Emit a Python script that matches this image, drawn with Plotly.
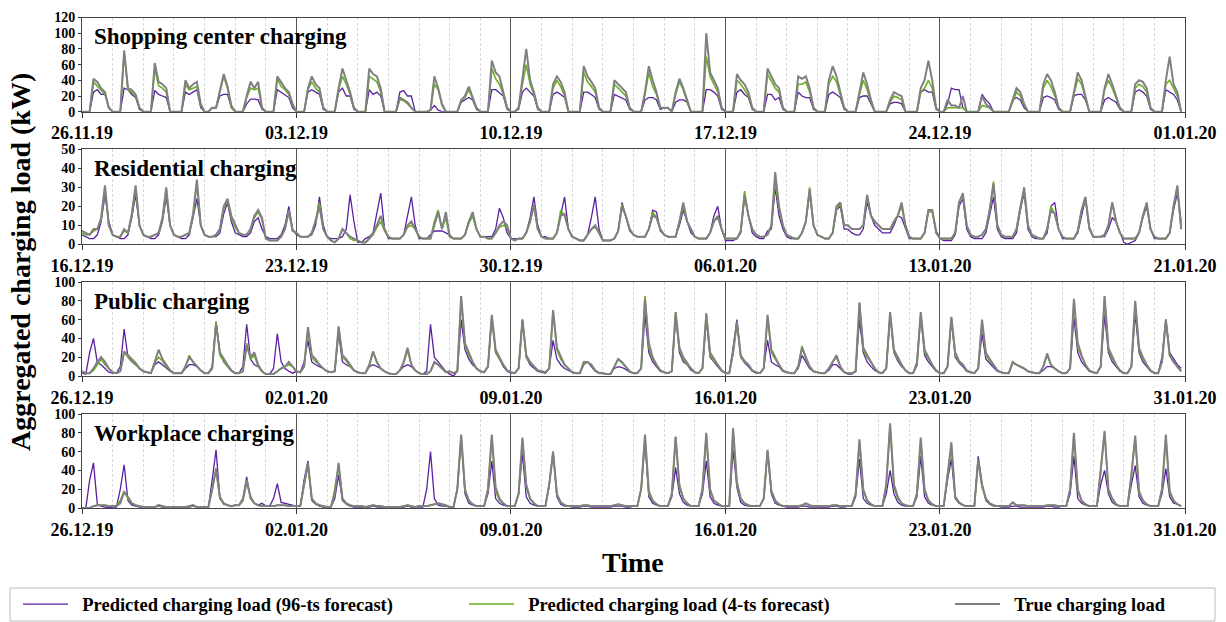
import plotly.graph_objects as go
import pandas as pd

# ---------------- data (3-hour resolution, 8 values per day, 36 days) ----------------
series_names = ["Predicted charging load (96-ts forecast)",
                "Predicted charging load (4-ts forecast)",
                "True charging load"]
panel_titles = ["Shopping center charging", "Residential charging",
                "Public charging", "Workplace charging"]
panel_starts = ["2019-11-26", "2019-12-16", "2019-12-26", "2019-12-26"]
tick_dates = [
    ["2019-11-26", "2019-12-03", "2019-12-10", "2019-12-17", "2019-12-24", "2020-01-01"],
    ["2019-12-16", "2019-12-23", "2019-12-30", "2020-01-06", "2020-01-13", "2020-01-21"],
    ["2019-12-26", "2020-01-02", "2020-01-09", "2020-01-16", "2020-01-23", "2020-01-31"],
    ["2019-12-26", "2020-01-02", "2020-01-09", "2020-01-16", "2020-01-23", "2020-01-31"],
]
tick_labels = [
    ["26.11.19", "03.12.19", "10.12.19", "17.12.19", "24.12.19", "01.01.20"],
    ["16.12.19", "23.12.19", "30.12.19", "06.01.20", "13.01.20", "21.01.20"],
    ["26.12.19", "02.01.20", "09.01.20", "16.01.20", "23.01.20", "31.01.20"],
    ["26.12.19", "02.01.20", "09.01.20", "16.01.20", "23.01.20", "31.01.20"],
]
y_max = [120, 50, 100, 100]
y_step = [20, 10, 20, 20]

# Shopping center
shop_96 = [
    0,0,0,25,28,22,22,5, 0,0,0,30,28,22,18,3, 0,0,0,27,22,20,18,0, 0,0,0,25,22,25,28,5,
    0,0,5,5,20,22,22,5, 0,0,0,10,16,16,15,3, 0,0,0,28,25,22,18,5, 0,0,0,25,28,25,22,3,
    0,0,0,25,30,20,20,3, 0,0,0,28,22,25,20,0, 0,0,0,25,27,20,20,0, 0,0,0,2,8,2,0,0,
    0,0,0,12,15,18,15,3, 0,0,0,28,28,24,20,3, 0,0,3,25,30,25,20,3, 0,0,0,22,25,22,18,0,
    0,0,0,25,25,22,18,3, 0,0,0,22,20,18,15,3, 0,0,0,15,18,18,15,3, 5,5,0,12,15,15,12,0,
    0,0,0,28,28,25,20,3, 0,0,0,25,28,22,18,3, 0,0,0,22,22,15,18,3, 0,0,0,25,20,18,18,3,
    0,0,0,22,25,22,18,3, 0,0,0,18,20,20,10,0, 0,0,0,10,12,12,10,0, 0,0,0,25,28,25,25,3,
    0,0,10,30,28,28,5,0, 0,0,0,22,15,10,0,0, 0,0,0,15,18,15,5,0, 0,0,0,18,20,18,15,3,
    0,0,0,20,22,22,15,0, 0,0,0,15,18,15,12,3, 0,0,0,25,28,25,20,3, 0,0,0,28,25,22,15,0,
]
shop_4 = [
    0,0,0,38,33,28,22,5, 0,0,0,75,28,25,20,5, 0,0,0,55,33,30,25,0, 0,0,0,35,28,30,32,8,
    0,0,5,5,25,45,30,5, 0,0,0,18,30,28,30,5, 0,0,0,42,32,28,22,8, 0,0,0,28,38,30,25,5,
    0,0,0,28,45,35,22,5, 0,0,0,45,42,38,25,0, 0,0,0,16,14,10,5,0, 0,0,0,2,35,28,8,0,
    0,0,0,14,18,28,16,5, 0,0,0,55,42,35,22,5, 0,0,5,35,60,35,22,5, 0,0,0,30,40,32,20,0,
    0,0,0,50,38,32,25,5, 0,0,0,35,30,25,20,5, 0,0,0,22,50,32,22,5, 5,5,0,22,38,28,12,0,
    0,0,0,70,45,35,25,5, 0,0,0,40,35,28,20,5, 0,0,0,48,38,30,25,5, 0,0,0,35,35,38,25,5,
    0,0,0,35,45,38,20,5, 0,0,0,22,40,28,12,0, 0,0,0,12,20,18,15,0, 0,0,0,25,30,40,30,5,
    0,0,5,5,5,5,5,0, 0,0,0,8,6,5,0,0, 0,0,0,12,25,20,8,0, 0,0,0,30,40,32,20,5,
    0,0,0,22,42,35,18,0, 0,0,0,28,40,30,18,5, 0,0,0,30,35,32,25,5, 0,0,0,35,40,30,20,0,
]
shop_true = [
    0,0,0,42,38,30,25,5, 0,0,0,78,30,28,22,5, 0,0,0,62,38,35,30,0, 0,0,0,40,30,35,38,10,
    0,0,5,5,28,48,32,8, 0,0,0,20,38,30,38,5, 0,0,0,45,38,30,25,10, 0,0,0,30,45,35,30,5,
    0,0,0,30,55,40,25,5, 0,0,0,55,48,45,30,0, 0,0,0,18,15,12,5,0, 0,0,0,2,45,30,10,0,
    0,0,0,15,20,32,18,5, 0,0,0,65,50,45,25,5, 0,0,5,40,80,40,25,5, 0,0,0,35,45,38,25,0,
    0,0,0,58,45,38,30,5, 0,0,0,40,35,30,25,5, 0,0,0,25,58,40,25,5, 5,5,0,25,42,30,15,0,
    0,0,0,100,50,40,30,5, 0,0,0,48,40,35,25,5, 0,0,0,55,45,35,30,5, 0,0,0,45,42,45,30,5,
    0,0,0,40,58,45,25,5, 0,0,0,25,50,35,15,0, 0,0,0,15,25,22,20,0, 0,0,0,30,40,65,40,5,
    0,0,15,8,8,5,20,0, 0,0,0,20,10,5,0,0, 0,0,0,15,30,25,10,0, 0,0,0,35,48,40,25,5,
    0,0,0,25,50,40,20,0, 0,0,0,30,48,35,20,5, 0,0,0,35,40,38,30,5, 0,0,0,40,70,35,25,0,
]

# Residential
res_96 = [
    5,4,3,3,5,12,26,12, 5,4,3,3,5,14,26,10, 5,4,3,3,5,12,25,10, 5,4,3,3,5,14,24,10,
    5,4,4,4,6,16,22,12, 6,5,4,4,6,12,14,8, 4,3,3,3,5,10,20,8, 5,4,4,4,5,10,25,10,
    4,3,3,3,4,8,26,12, 1,1,3,4,6,16,27,8, 3,3,3,3,5,16,25,10, 3,3,3,5,7,7,7,6,
    5,3,3,3,5,12,15,8, 4,4,4,4,8,19,14,6, 3,3,3,3,6,14,25,10, 4,4,3,3,6,15,25,8,
    4,3,2,2,5,14,25,8, 2,2,2,3,7,22,15,7, 5,4,4,4,8,18,17,7, 5,4,4,4,10,18,12,6,
    4,3,3,3,6,15,20,8, 2,2,2,3,6,25,15,6, 4,3,3,7,8,30,15,8, 4,3,3,3,6,12,27,10,
    5,4,3,3,6,18,20,8, 8,6,5,5,8,22,15,10, 8,6,6,6,10,15,14,8, 3,3,3,3,6,18,18,6,
    3,2,2,2,5,20,24,8, 4,3,3,3,6,15,25,8, 4,3,3,3,6,18,27,8, 4,3,3,3,6,20,22,8,
    3,3,3,3,6,15,24,8, 4,4,4,4,8,14,12,6, 1,0,1,2,6,14,20,8, 3,3,3,3,6,18,27,12,
]
res_4 = [
    6,5,5,7,8,13,30,10, 5,4,4,7,6,15,30,10, 5,4,4,5,6,13,28,10, 5,4,4,5,6,15,32,10,
    5,4,4,5,8,19,23,14, 9,6,5,5,8,14,17,13, 3,2,2,2,4,8,17,7, 6,4,4,4,6,13,22,8,
    4,2,1,3,8,6,3,2, 2,1,1,3,5,9,12,7, 4,3,3,3,5,9,10,8, 4,3,3,3,12,18,8,14,
    4,3,3,3,5,11,15,8, 4,4,3,3,6,9,10,9, 3,2,3,3,6,12,20,8, 4,3,3,3,6,18,15,8,
    4,3,2,2,5,8,9,6, 2,2,2,3,7,21,14,8, 5,4,4,4,8,17,14,8, 5,4,4,4,12,20,12,8,
    4,3,3,3,6,12,14,8, 3,3,3,3,7,28,15,8, 5,4,4,5,10,33,19,10, 5,4,3,3,6,12,30,10,
    5,4,3,3,6,18,22,10, 10,8,8,8,10,26,15,12, 10,8,8,8,12,15,20,10, 4,3,3,3,6,17,17,7,
    3,3,3,3,6,22,26,10, 5,4,4,5,8,18,33,10, 5,4,4,4,8,20,28,10, 5,4,3,3,8,20,16,8,
    4,3,3,3,7,18,24,9, 4,4,4,5,10,22,12,6, 3,3,3,3,6,15,21,8, 4,3,3,3,6,20,30,8,
]
res_true = [
    7,6,5,8,8,14,31,10, 5,4,4,8,6,16,31,10, 5,4,4,5,6,14,30,10, 5,4,4,5,6,16,34,10,
    5,4,4,5,8,20,24,15, 10,6,5,5,8,15,18,14, 3,2,2,2,4,8,18,7, 6,4,4,4,6,12,20,8,
    4,2,1,3,8,6,4,3, 2,1,1,3,6,10,15,8, 4,3,3,3,5,10,12,8, 4,3,3,3,10,17,8,17,
    4,3,3,3,5,12,17,8, 4,4,3,3,6,10,12,10, 3,2,3,3,6,12,21,8, 4,3,3,3,6,15,16,8,
    4,3,2,2,5,8,10,6, 2,2,2,3,7,20,15,8, 5,4,4,4,8,15,14,8, 5,4,4,4,12,22,12,8,
    4,3,3,3,6,12,15,8, 3,3,3,3,7,26,15,8, 5,4,4,5,10,38,20,10, 5,4,3,3,6,12,29,10,
    5,4,3,3,6,20,22,10, 10,8,8,8,10,26,15,12, 10,8,8,8,12,15,22,10, 4,3,3,3,6,18,18,7,
    3,3,3,3,6,22,27,10, 5,4,4,5,8,18,32,10, 5,4,4,4,8,20,30,10, 5,4,3,3,8,18,16,8,
    4,3,3,3,7,18,25,9, 4,4,4,5,10,22,12,6, 3,3,3,3,6,15,22,8, 4,3,3,3,6,20,31,8,
]

# Public
pub_96 = [
    3,2,25,40,14,12,8,4, 3,3,10,50,20,15,12,8, 5,4,3,12,15,12,8,5, 3,3,3,8,12,12,10,6,
    3,3,10,58,25,15,10,5, 3,3,10,55,18,12,10,5, 2,2,8,45,15,8,5,3, 5,4,15,38,15,12,10,8,
    5,4,5,45,15,12,10,6, 4,3,3,10,12,10,8,5, 3,2,2,6,10,12,10,6, 3,2,5,55,20,15,10,5,
    2,0,5,60,28,18,12,8, 5,4,10,62,25,18,10,5, 3,3,8,60,20,12,8,5, 4,3,8,38,18,12,8,6,
    4,3,3,12,15,10,5,3, 3,2,2,8,10,9,7,4, 3,3,8,65,25,15,10,5, 4,3,5,63,25,15,12,6,
    4,3,8,60,20,15,10,5, 3,3,30,60,20,14,10,5, 3,3,8,38,15,12,10,5, 4,3,3,8,22,15,8,5,
    4,3,3,6,12,12,8,4, 2,2,5,60,25,15,10,6, 4,3,8,66,25,16,10,6, 3,3,15,65,22,15,10,5,
    3,3,10,60,20,14,10,5, 4,3,8,45,18,14,10,5, 4,3,3,14,12,10,8,5, 4,3,3,6,10,10,8,5,
    3,3,8,62,25,15,10,5, 4,3,10,65,25,15,10,5, 3,3,10,66,25,15,10,5, 3,3,20,60,25,18,12,8,
]
pub_4 = [
    5,3,3,6,12,18,12,8, 4,3,5,25,20,16,12,8, 5,4,3,14,20,16,10,6, 3,3,3,10,22,15,10,6,
    3,3,8,58,22,16,10,6, 3,3,5,35,18,22,10,5, 2,2,2,5,8,10,12,10, 5,4,10,50,20,15,12,8,
    5,4,5,53,20,16,10,6, 4,3,3,10,26,14,8,5, 3,2,2,6,14,27,12,6, 3,2,2,5,14,12,8,4,
    5,3,5,82,32,22,15,8, 5,4,10,63,25,18,12,6, 4,3,8,60,20,14,10,6, 5,4,8,70,28,18,12,8,
    4,3,3,12,15,12,6,3, 3,2,2,10,18,14,10,5, 3,3,8,85,30,18,12,6, 4,3,5,68,28,18,12,8,
    4,3,8,67,22,16,12,6, 3,3,25,56,20,15,12,6, 4,3,8,63,25,18,12,6, 4,3,3,10,32,18,10,5,
    4,3,3,8,15,20,10,4, 3,3,5,78,28,20,15,8, 4,3,8,65,26,18,12,6, 3,3,12,66,25,18,12,6,
    3,3,10,62,22,15,12,6, 4,3,8,58,22,16,12,6, 4,3,3,14,12,10,8,5, 4,3,3,10,22,12,8,5,
    3,3,8,80,30,20,12,6, 4,3,10,84,28,18,12,6, 3,3,10,78,28,18,12,6, 3,3,15,60,22,15,10,5,
]
pub_true = [
    5,3,3,8,15,20,15,8, 4,3,5,26,22,18,14,8, 5,4,3,15,28,18,12,6, 3,3,3,10,20,15,10,6,
    3,3,8,55,25,18,12,6, 3,3,5,32,20,25,12,5, 2,2,2,5,8,10,15,10, 5,4,10,52,22,18,12,8,
    5,4,5,52,22,18,12,6, 4,3,3,12,26,15,8,5, 3,2,2,6,15,30,12,6, 3,2,2,5,15,12,8,4,
    5,3,5,85,35,25,15,8, 5,4,10,65,28,20,12,6, 4,3,8,60,22,15,10,6, 5,4,8,70,30,20,12,8,
    4,3,3,15,15,12,6,3, 3,2,2,10,18,15,10,5, 3,3,8,82,35,20,12,6, 4,3,5,68,30,20,14,8,
    4,3,8,66,25,18,12,6, 3,3,25,58,22,16,12,6, 4,3,8,65,28,20,12,6, 4,3,3,10,30,20,10,5,
    4,3,3,8,15,22,10,4, 3,3,5,78,30,22,15,8, 4,3,8,68,28,20,12,6, 3,3,12,68,28,20,12,6,
    3,3,10,63,25,16,12,6, 4,3,8,60,25,18,12,6, 4,3,3,15,12,10,8,5, 4,3,3,10,24,12,8,5,
    3,3,8,82,35,22,12,6, 4,3,10,85,30,20,12,6, 3,3,10,80,30,20,12,6, 3,3,15,60,22,15,10,5,
]

# Workplace
work_96 = [
    0,0,30,48,4,2,1,0, 1,1,20,46,8,3,2,1, 1,1,1,1,2,1,1,1, 1,1,1,1,1,2,1,1,
    1,1,30,62,10,4,3,2, 3,3,10,33,10,5,3,5, 2,2,10,26,6,5,4,3, 2,2,30,50,8,4,2,1,
    1,1,10,35,8,4,2,1, 1,1,1,1,2,1,1,1, 1,1,1,1,1,2,1,1, 1,1,20,60,10,3,2,2,
    1,1,20,75,15,5,3,2, 2,2,15,50,10,5,3,2, 2,2,15,58,12,5,3,2, 2,2,25,60,12,4,2,2,
    1,1,1,2,2,1,1,1, 1,1,1,2,2,2,1,1, 2,2,20,70,12,5,3,2, 2,2,12,43,15,6,3,2,
    2,2,15,50,12,5,3,2, 2,2,62,22,6,3,2,2, 2,2,10,60,15,5,3,2, 1,1,1,1,2,2,1,1,
    1,1,1,1,2,2,1,1, 2,2,12,52,10,5,3,2, 2,2,15,40,15,6,3,2, 2,2,12,55,12,5,3,2,
    2,2,30,52,10,5,3,2, 2,2,55,25,8,4,2,2, 1,1,1,2,2,1,1,1, 1,1,1,1,2,2,1,1,
    2,2,15,55,10,5,3,2, 2,2,25,40,15,6,3,2, 2,2,25,45,12,5,3,2, 2,2,15,42,12,5,4,2,
]
work_4 = [
    0,0,0,2,3,3,3,2, 2,2,8,18,10,5,3,2, 1,1,1,1,3,2,1,1, 1,1,1,1,2,3,1,1,
    1,1,20,40,10,5,3,2, 3,3,10,30,10,5,3,2, 2,2,2,3,3,3,2,2, 2,2,25,45,10,5,3,2,
    1,1,20,45,10,5,3,2, 2,2,1,2,3,2,2,1, 1,1,1,1,2,3,2,1, 2,2,2,3,4,5,4,3,
    1,1,20,76,18,8,4,2, 2,2,20,75,18,8,5,2, 2,2,15,73,22,10,5,2, 2,2,25,58,14,6,3,2,
    2,2,2,3,3,2,2,2, 2,2,2,3,4,3,2,2, 2,2,20,75,15,8,4,2, 2,2,15,75,25,10,5,2,
    2,2,20,78,18,8,5,2, 2,2,80,25,10,5,3,2, 2,2,10,60,18,8,4,2, 2,2,2,2,3,5,3,2,
    2,2,2,2,3,3,2,2, 2,2,15,70,18,8,4,2, 2,2,25,88,22,10,5,3, 2,2,15,72,18,8,4,2,
    2,2,35,65,12,6,3,2, 2,2,50,22,10,5,3,2, 2,2,2,6,3,3,3,2, 2,2,2,2,3,3,3,2,
    2,2,20,78,18,8,4,2, 2,2,40,80,18,10,4,2, 2,2,35,75,16,8,4,2, 2,2,20,75,16,8,4,2,
]
work_true = [
    0,0,0,2,3,3,3,2, 2,2,5,17,12,5,3,2, 1,1,1,1,3,2,1,1, 1,1,1,1,2,3,1,1,
    1,1,20,42,12,5,3,2, 3,3,8,28,12,5,3,2, 2,2,2,3,3,3,2,2, 2,2,25,48,10,5,3,2,
    1,1,15,48,10,5,3,2, 2,2,1,2,3,2,2,1, 1,1,1,1,2,3,2,1, 2,2,2,3,4,5,4,3,
    1,1,20,78,20,8,4,2, 2,2,20,78,22,10,5,2, 2,2,15,75,25,10,5,2, 2,2,25,60,15,6,3,2,
    2,2,2,3,3,2,2,2, 2,2,2,3,4,3,2,2, 2,2,20,78,18,8,4,2, 2,2,15,76,22,10,5,2,
    2,2,20,80,20,8,5,2, 2,2,85,28,10,5,3,2, 2,2,10,62,18,8,4,2, 2,2,2,2,3,5,3,2,
    2,2,2,2,3,3,2,2, 2,2,15,73,20,8,4,2, 2,2,25,90,25,12,5,3, 2,2,15,75,20,8,4,2,
    2,2,35,70,12,6,3,2, 2,2,52,25,10,5,3,2, 2,2,2,6,3,3,3,2, 2,2,2,2,3,3,3,2,
    2,2,20,80,20,8,4,2, 2,2,40,82,20,10,4,2, 2,2,35,77,18,8,4,2, 2,2,20,78,18,8,4,2,
]

panel_data = [
    (shop_96, shop_4, shop_true),
    (res_96, res_4, res_true),
    (pub_96, pub_4, pub_true),
    (work_96, work_4, work_true),
]

# ---------------- styling ----------------
W, H = 1226, 622
FONT = "Liberation Serif"
colors = ["#5b1fa3", "#6ab023", "#808080"]
widths = [1.3, 1.6, 2.0]
legend_ids = ["legend", "legend2", "legend3"]

X0, X1 = 82 / W, 1185 / W
panel_px = [(17.5, 111.7), (149.3, 244.3), (282.0, 376.0), (414.0, 508.0)]

fig = go.Figure()

for i in range(4):
    n = "" if i == 0 else str(i + 1)
    xa, ya = "x" + n, "y" + n
    start = pd.Timestamp(panel_starts[i])
    values = panel_data[i]
    times = pd.date_range(start, periods=len(values[0]), freq="3h")
    for k in range(3):
        fig.add_trace(go.Scatter(
            x=times, y=values[k], mode="lines",
            name="\u00a0\u00a0" + series_names[k],
            line=dict(color=colors[k], width=widths[k]),
            xaxis=xa, yaxis=ya, showlegend=(i == 0), legend=legend_ids[k],
        ))
    top, bot = panel_px[i]
    end = start + pd.Timedelta(days=36)
    fig.layout["xaxis" + n] = dict(
        domain=[X0, X1], anchor=ya, type="date",
        range=[start, end],
        tickmode="array", tickvals=tick_dates[i], ticktext=tick_labels[i],
        tickangle=0,
        ticks="outside", ticklen=5, tickcolor="#333", tickwidth=1,
        tickfont=dict(family=FONT, size=18, color="black", weight="bold"),
        ticklabelstandoff=0,
        showline=True, mirror=True, linecolor="#444", linewidth=1,
        showgrid=True, gridcolor="#555555", gridwidth=1,
        minor=dict(showgrid=True, dtick=86400000, tick0=start,
                   gridcolor="#d9d9d9", griddash="3px,2px", gridwidth=1, ticks=""),
        zeroline=False, automargin=False,
    )
    fig.layout["yaxis" + n] = dict(
        domain=[1 - bot / H, 1 - top / H], anchor=xa,
        range=[0, y_max[i]], dtick=y_step[i], tick0=0,
        ticks="outside", ticklen=3, tickcolor="#333", tickwidth=1,
        tickfont=dict(family=FONT, size=14, color="black", weight="bold"),
        showline=True, mirror=True, linecolor="#444", linewidth=1,
        showgrid=False, zeroline=False, automargin=False,
    )
    fig.add_annotation(
        text=panel_titles[i], xref=xa + " domain", yref=ya + " domain",
        x=0.009, y=1 - 19 / (bot - top), xanchor="left", yanchor="middle",
        showarrow=False, font=dict(family=FONT, size=23, color="black", weight="bold"),
    )

fig.add_annotation(
    text="Aggregated charging load (kW)", textangle=-90, xref="paper", yref="paper",
    x=20 / W, y=1 - 262 / H, xanchor="center", yanchor="middle", showarrow=False,
    font=dict(family=FONT, size=28, color="black", weight="bold"),
)
fig.add_annotation(
    text="Time", xref="paper", yref="paper",
    x=633 / W, y=1 - 562 / H, xanchor="center", yanchor="middle", showarrow=False,
    font=dict(family=FONT, size=28, color="black", weight="bold"),
)

# legend frame
fig.add_shape(type="rect", xref="paper", yref="paper",
              x0=10 / W, x1=1215 / W, y0=1 - 621 / H, y1=1 - 588 / H,
              line=dict(color="#bbbbbb", width=1), fillcolor="rgba(0,0,0,0)")

leg_font = dict(family=FONT, size=18.5, color="black", weight="bold")
legend_x = [18 / W, 464 / W, 950 / W]
for k, lid in enumerate(legend_ids):
    fig.layout[lid] = dict(
        x=legend_x[k], y=1 - 604.5 / H, xanchor="left", yanchor="middle",
        orientation="h", font=leg_font, bgcolor="rgba(0,0,0,0)",
        borderwidth=0, itemwidth=45,
    )

fig.update_layout(
    template="none", width=W, height=H,
    margin=dict(l=0, r=0, t=0, b=0, autoexpand=False),
    paper_bgcolor="white", plot_bgcolor="white",
)

fig.write_html("out.html", config={"displayModeBar": False},
               post_script="document.body.style.margin='0px';document.body.style.overflow='hidden';")
